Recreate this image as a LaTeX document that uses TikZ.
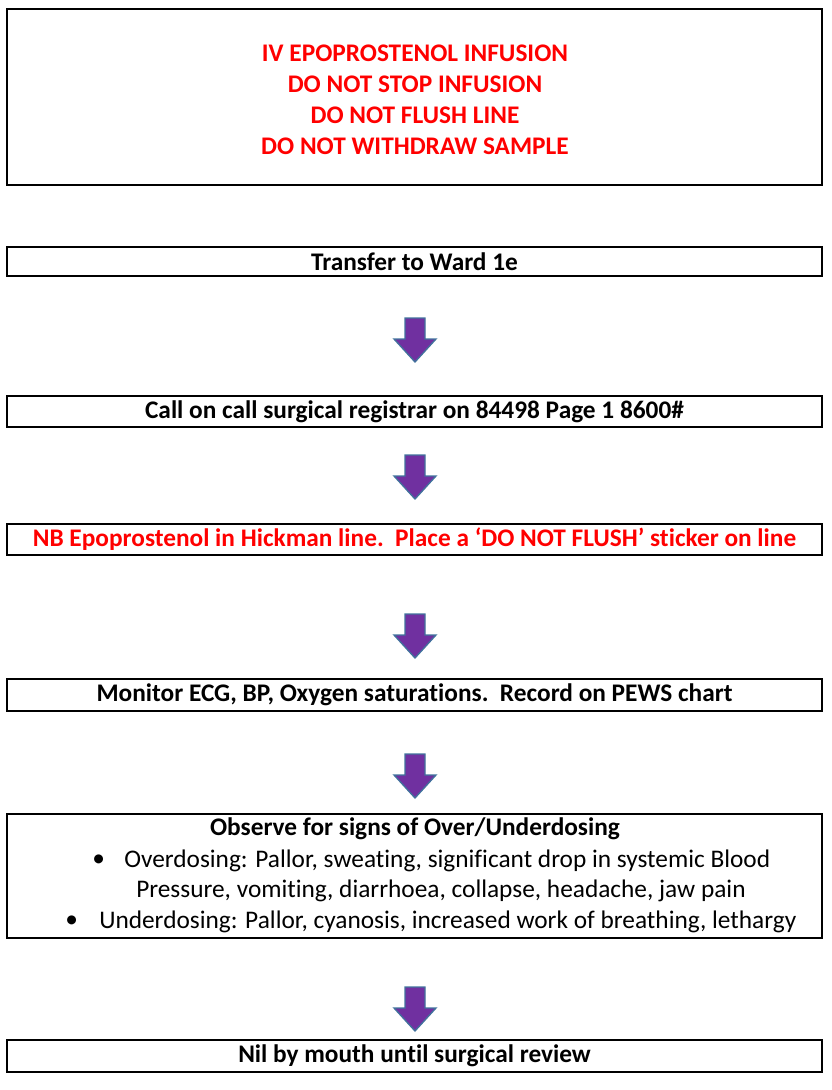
\documentclass[tikz,border=0pt]{standalone}
\usepackage{fontspec}
\setmainfont{Carlito}[Ligatures=NoCommon]
\usetikzlibrary{calc}

\definecolor{alertred}{RGB}{255,0,0}
\definecolor{arrowfill}{RGB}{112,48,160}
\definecolor{arrowedge}{RGB}{65,113,156}

\newcommand{\flowfont}{\fontsize{19pt}{23pt}\selectfont}

\tikzset{
  flowbox/.style={draw=black, line width=0.8pt, rectangle, minimum width=611.25pt, inner sep=0pt, font=\flowfont\bfseries},
  alert/.style={text=alertred, font=\flowfont\bfseries},
  plain/.style={inner sep=0pt, anchor=west, font=\flowfont}
}

% block arrow pointing down, top centre at (#1,#2)
\newcommand{\flowarrow}[2]{%
  \draw[fill=arrowfill, draw=arrowedge, line width=1pt]
    (#1-10,#2) -- (#1+10,#2) -- (#1+10,#2+21) -- (#1+21,#2+21)
    -- (#1,#2+44) -- (#1-21,#2+21) -- (#1-10,#2+21) -- cycle;
}

\begin{document}
\begin{tikzpicture}[x=0.75pt, y=-0.75pt]
\useasboundingbox (0,0) rectangle (832,1090);

\node[flowbox, minimum height=132pt] (warn) at (414.5,97) {};
\node[alert] (warn1) at (415,53) {IV EPOPROSTENOL INFUSION};
\node[alert] (warn2) at (415,84) {DO NOT STOP INFUSION};
\node[alert] (warn3) at (415,115) {DO NOT FLUSH LINE};
\node[alert] (warn4) at (415,146) {DO NOT WITHDRAW SAMPLE};

\node[flowbox, minimum height=21.75pt] (ward) at (414.5,261.5) {Transfer to Ward 1e};
\flowarrow{415}{318}
\node[flowbox, minimum height=23.25pt] (call) at (414.5,411.5) {Call on call surgical registrar on 84498 Page 1 8600\#};
\flowarrow{415}{455}
\node[flowbox, minimum height=23.25pt, text=alertred] (hick) at (414.5,539.5) {NB Epoprostenol in Hickman line.\ \ Place a `DO NOT FLUSH' sticker on line};
\flowarrow{415}{614}
\node[flowbox, minimum height=24pt] (mon) at (414.5,695) {Monitor ECG, BP, Oxygen saturations.\ \ Record on PEWS chart};
\flowarrow{415}{754}

\node[flowbox, minimum height=93pt] (obs) at (414.5,876) {};
\node[font=\flowfont\bfseries, inner sep=0pt] (obst) at (415,829) {Observe for signs of Over/Underdosing};
\node[plain] (b1) at (92,861) {\textbullet};
\node[plain] (over1) at (124,861) {Overdosing: Pallor, sweating, significant drop in systemic Blood};
\node[plain] (over2) at (136,891) {Pressure, vomiting, diarrhoea, collapse, headache, jaw pain};
\node[plain] (b2) at (65,922) {\textbullet};
\node[plain] (under) at (99,922) {Underdosing: Pallor, cyanosis, increased work of breathing, lethargy};

\flowarrow{415}{987}
\node[flowbox, minimum height=24pt] (nil) at (414.5,1056) {Nil by mouth until surgical review};
\end{tikzpicture}
\end{document}
